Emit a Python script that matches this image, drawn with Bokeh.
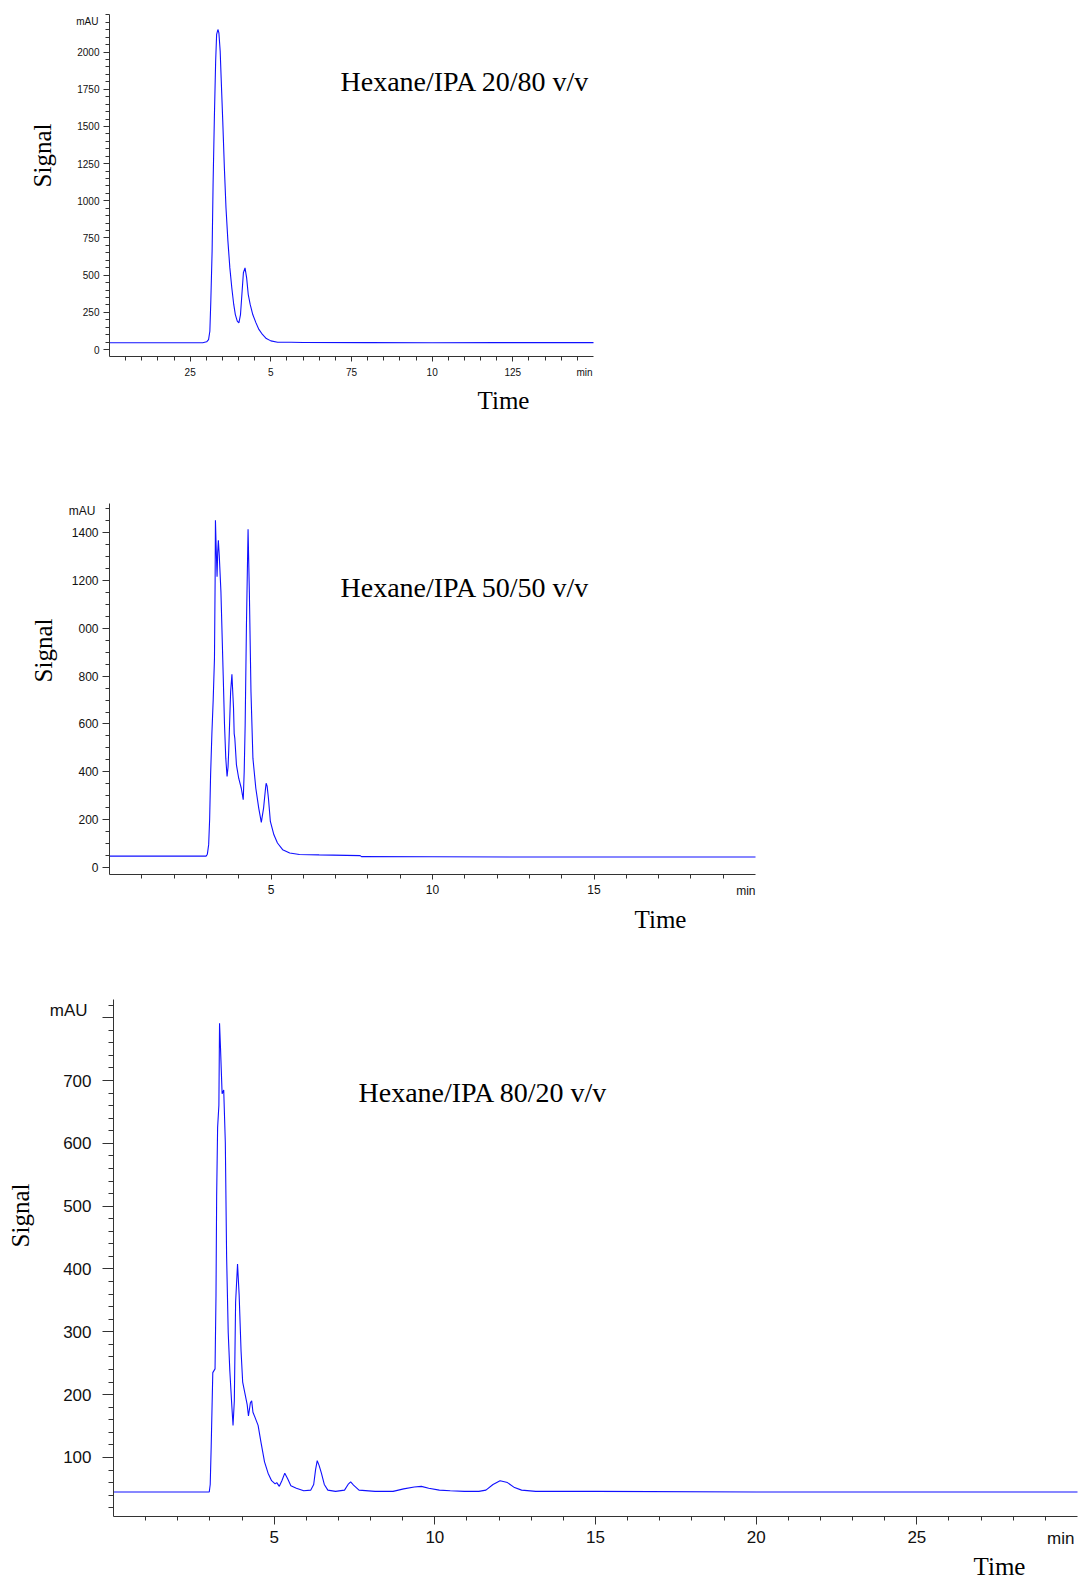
import numpy as np
from bokeh.plotting import figure
from bokeh.models import Label, FixedTicker, Range1d
from bokeh.layouts import column
from bokeh.embed import file_html
from bokeh.resources import INLINE

# ---------------- data ----------------
titles = ["Hexane/IPA 20/80 v/v", "Hexane/IPA 50/50 v/v", "Hexane/IPA 80/20 v/v"]

# Panel 1: Hexane/IPA 20/80
t1 = [0, 1, 2, 2.89, 3.01, 3.07, 3.11, 3.14, 3.18, 3.21, 3.25, 3.29, 3.32, 3.36, 3.39,
      3.43, 3.46, 3.51, 3.56, 3.61, 3.67, 3.73, 3.79, 3.85, 3.90, 3.96, 4.01, 4.06, 4.11,
      4.15, 4.20, 4.25, 4.30, 4.36, 4.44, 4.54, 4.63, 4.74, 4.86, 5.0, 5.21, 5.63, 6, 8,
      10, 12, 14, 15]
s1 = [45, 45, 45, 45, 52, 67, 123, 325, 661, 1110, 1558, 1940, 2119, 2152, 2130,
      2007, 1827, 1536, 1222, 953, 729, 549, 415, 303, 235, 191, 179, 235, 392,
      516, 549, 482, 370, 303, 235, 179, 135, 101, 74, 58, 49, 49, 47, 46,
      45, 46, 46, 46]

# Panel 2: Hexane/IPA 50/50
t2 = [0, 1, 2, 2.99, 3.03, 3.07, 3.10, 3.13, 3.17, 3.21, 3.25, 3.27, 3.28, 3.30, 3.33,
      3.35, 3.37, 3.40, 3.45, 3.52, 3.56, 3.60, 3.64, 3.67, 3.69, 3.75, 3.79, 3.81, 3.84,
      3.86, 3.88, 3.93, 4.00, 4.08, 4.14, 4.17, 4.20, 4.24, 4.29, 4.33, 4.38, 4.44, 4.53,
      4.62, 4.70, 4.77, 4.83, 4.85, 4.88, 4.92, 4.98, 5.09, 5.20, 5.36, 5.58, 5.88, 6.49,
      7.76, 7.80, 10, 15, 20]
s2 = [47, 47, 47, 47, 55, 95, 200, 387, 560, 700, 875, 1200, 1453, 1350, 1216,
      1320, 1369, 1300, 1153, 805, 600, 457, 380, 420, 485, 735, 808, 750, 666,
      560, 540, 429, 373, 331, 283, 400, 596, 1014, 1415, 1153, 735, 457, 331,
      248, 188, 248, 330, 352, 340, 290, 192, 136, 102, 74, 60, 54, 52,
      49, 45, 44, 43, 43]

# Panel 3: Hexane/IPA 80/20
t3 = [0, 1, 2, 2.98, 3.01, 3.04, 3.09, 3.16, 3.19, 3.21, 3.24, 3.28, 3.30, 3.33, 3.38,
      3.43, 3.48, 3.52, 3.57, 3.62, 3.68, 3.72, 3.76, 3.80, 3.86, 3.91, 3.97, 4.02, 4.09,
      4.16, 4.20, 4.26, 4.30, 4.34, 4.41, 4.50, 4.59, 4.70, 4.81, 4.92, 5.03, 5.08, 5.16,
      5.24, 5.33, 5.42, 5.52, 5.69, 5.92, 6.14, 6.23, 6.29, 6.34, 6.40, 6.47, 6.56, 6.67,
      6.91, 7.19, 7.30, 7.38, 7.47, 7.64, 8.14, 8.70, 9.03, 9.36, 9.58, 9.81, 10.14, 10.48,
      10.92, 11.37, 11.59, 11.81, 12.03, 12.26, 12.48, 12.70, 13.14, 15, 20, 25, 30]
s3 = [45, 45, 45, 45, 57, 117, 235, 241, 359, 516, 625, 661, 791, 752, 679,
      685, 601, 420, 299, 238, 184, 151, 190, 347, 408, 359, 269, 220, 202,
      184, 166, 187, 190, 172, 163, 151, 124, 93, 75, 63, 58, 60, 54,
      63, 75, 66, 55, 51, 47, 48, 57, 81, 95, 87, 75, 57, 48,
      46, 48, 57, 61, 56, 48, 46, 46, 50, 53, 54, 51, 48, 47,
      46, 46, 48, 57, 63, 60, 52, 48, 46, 46, 45, 45, 45]

# tick labels
x1_ticks = [2.5, 5, 7.5, 10, 12.5]
x1_labels = ["25", "5", "75", "10", "125"]
y1_ticks = [0, 250, 500, 750, 1000, 1250, 1500, 1750, 2000]
y1_labels = ["0", "250", "500", "750", "1000", "1250", "1500", "1750", "2000"]

x2_ticks = [5, 10, 15]
x2_labels = ["5", "10", "15"]
y2_ticks = [0, 200, 400, 600, 800, 1000, 1200, 1400]
y2_labels = ["0", "200", "400", "600", "800", "000", "1200", "1400"]

x3_ticks = [5, 10, 15, 20, 25]
x3_labels = ["5", "10", "15", "20", "25"]
y3_ticks = [100, 200, 300, 400, 500, 600, 700, 800]
y3_labels = ["100", "200", "300", "400", "500", "600", "700", ""]

BLUE = "#1010ff"
AX = "#333333"
SERIF = "Liberation Serif"
SANS = "Liberation Sans"
W = 1078


class Geo:
    """Pixel geometry of one panel's axes box (pixels within its figure)."""
    def __init__(self, height, left, right, top, bottom, xr, yr):
        self.height, self.left, self.right = height, left, right
        self.top, self.bottom, self.xr, self.yr = top, bottom, xr, yr

    def X(self, px):
        return self.xr[0] + (px - self.left) / (self.right - self.left) * (self.xr[1] - self.xr[0])

    def Y(self, py):
        return self.yr[1] - (py - self.top) / (self.bottom - self.top) * (self.yr[1] - self.yr[0])


def panel(g, t, s, xt, xl, xminor, yt, yl, yminor, fs, title, lab, ticklen):
    p = figure(width=W, height=g.height,
               x_range=Range1d(g.X(0), g.X(W)), y_range=Range1d(g.Y(g.height), g.Y(0)),
               output_backend="svg", toolbar_location=None,
               min_border_left=0, min_border_right=0, min_border_top=0, min_border_bottom=0)
    p.xgrid.visible = False
    p.ygrid.visible = False
    p.outline_line_color = None
    p.background_fill_color = "white"
    p.border_fill_color = "white"
    p.line(t, s, line_color=BLUE, line_width=1.1)

    xa, ya = p.xaxis[0], p.yaxis[0]
    xa.fixed_location = g.yr[0]
    xa.bounds = g.xr
    ya.fixed_location = g.xr[0]
    ya.bounds = g.yr
    xa.ticker = FixedTicker(ticks=xt, minor_ticks=xminor)
    xa.major_label_overrides = {v: l for v, l in zip(xt, xl)}
    ya.ticker = FixedTicker(ticks=yt, minor_ticks=yminor)
    ya.major_label_overrides = {v: l for v, l in zip(yt, yl)}
    ymaj, ymin, xmaj, xmin, ystand, xstand = ticklen
    for ax in (xa, ya):
        ax.axis_line_color = AX
        ax.major_tick_line_color = AX
        ax.minor_tick_line_color = AX
        ax.major_tick_in = 0
        ax.minor_tick_in = 0
        ax.major_label_text_font = SANS
        ax.major_label_text_font_size = f"{fs}px"
        ax.major_label_text_color = "#111111"
    ya.major_tick_out = ymaj
    ya.minor_tick_out = ymin
    ya.major_label_standoff = ystand
    xa.major_tick_out = xmaj
    xa.minor_tick_out = xmin
    xa.major_label_standoff = xstand

    (sx, sy), (tx, ty), (hx, hy), (mx, my), (nx, ny) = lab
    p.add_layout(Label(x=g.X(sx), y=g.Y(sy), text="Signal", angle=np.pi / 2,
                       text_font=SERIF, text_font_size="25px", text_align="center",
                       text_baseline="middle", text_color="black"))
    p.add_layout(Label(x=g.X(tx), y=g.Y(ty), text="Time", text_font=SERIF,
                       text_font_size="25px", text_align="center",
                       text_baseline="middle", text_color="black"))
    p.add_layout(Label(x=g.X(hx), y=g.Y(hy), text=title, text_font=SERIF,
                       text_font_size="28px", text_align="left",
                       text_baseline="middle", text_color="black"))
    p.add_layout(Label(x=g.X(mx), y=g.Y(my), text="mAU", text_font=SANS,
                       text_font_size=f"{fs}px", text_align="right",
                       text_baseline="middle", text_color="#111111"))
    p.add_layout(Label(x=g.X(nx), y=g.Y(ny), text="min", text_font=SANS,
                       text_font_size=f"{fs}px", text_align="right",
                       text_baseline="middle", text_color="#111111"))
    return p


g1 = Geo(440, 109, 593, 14, 356, (0, 15), (-47, 2253))
p1 = panel(g1, t1, s1, x1_ticks, x1_labels, list(np.arange(0.5, 15, 0.5)),
           y1_ticks, y1_labels, list(np.arange(0, 2260, 50)), 10, titles[0],
           [(42, 155), (503, 400), (340, 81), (98, 21), (592, 372)],
           (6, 4, 5, 4, 4, 6))

g2 = Geo(520, 109, 755, 63, 434, (0, 20), (-30, 1523))
p2 = panel(g2, t2, s2, x2_ticks, x2_labels, list(np.arange(1, 20, 1)),
           y2_ticks, y2_labels, list(np.arange(0, 1520, 50)), 12, titles[1],
           [(42.5, 210), (660, 479), (340, 146.5), (95, 70.7), (755, 450)],
           (7, 4, 5, 4, 4, 5))

g3 = Geo(625, 113, 1077, 39, 556, (0, 30), (6, 829))
p3 = panel(g3, t3, s3, x3_ticks, x3_labels, list(np.arange(1, 30, 1)),
           y3_ticks, y3_labels, list(np.arange(20, 829, 20)), 17, titles[2],
           [(20, 255), (999, 606), (358, 132), (87, 50), (1074, 578)],
           (11, 5, 8, 4, 11, 6))

layout = column(p1, p2, p3, spacing=0)
open("out.html", "w").write(file_html(layout, INLINE))
